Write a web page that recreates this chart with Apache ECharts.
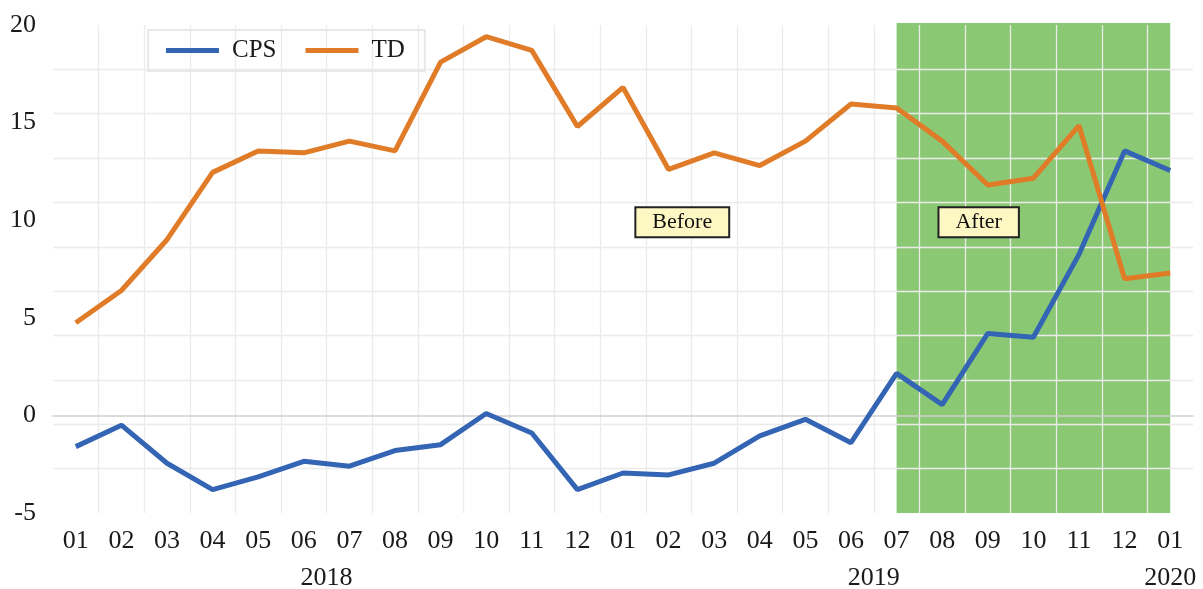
<!DOCTYPE html>
<html><head><meta charset="utf-8">
<script src="https://cdn.jsdelivr.net/npm/echarts@6/dist/echarts.min.js"></script>
<style>html,body{margin:0;padding:0;background:#fff}#c{width:1203px;height:589px}</style>
</head><body><div id="c"></div>
<script>
const years = ['2018','2018','2018','2018','2018','2018','2018','2018','2018','2018','2018','2018',
               '2019','2019','2019','2019','2019','2019','2019','2019','2019','2019','2019','2019','2020'];
const months = ['01','02','03','04','05','06','07','08','09','10','11','12',
                '01','02','03','04','05','06','07','08','09','10','11','12','01'];
const categories = years.map((y, i) => y + '-' + months[i]);
const cps = [-1.6, -0.5, -2.45, -3.8, -3.15, -2.35, -2.6, -1.8, -1.5, 0.1, -0.9, -3.8,
             -2.95, -3.05, -2.45, -1.05, -0.2, -1.4, 2.15, 0.55, 4.2, 4.0, 8.25, 13.55, 12.55];
const td = [4.75, 6.4, 9.0, 12.45, 13.55, 13.45, 14.05, 13.55, 18.1, 19.4, 18.7, 14.8,
            16.8, 12.6, 13.45, 12.8, 14.05, 15.95, 15.75, 14.05, 11.8, 12.15, 14.85, 7.0, 7.3];
const yearLabelPos = [5.5, 17.5, 24];
const yearLabels = ['2018', '2019', '2020'];
const afterStart = '2019-07', afterEnd = '2020-01';
const notes = [{ name: 'Before', value: [13.3, 9.9] }, { name: 'After', value: [19.8, 9.9] }];

const FONT = '"Liberation Serif", "Times New Roman", serif';
const TXT = '#1a1a1a';
const GRID = '#ebebeb';
const chart = echarts.init(document.getElementById('c'));
chart.setOption({
  animation: false,
  backgroundColor: '#fff',
  grid: { left: 53, right: 10, top: 25, bottom: 76, outerBoundsMode: 'none', containLabel: false },
  legend: {
    left: 148, top: 30,
    data: ['CPS', 'TD'],
    icon: 'rect', itemWidth: 53, itemHeight: 5, itemGap: 29,
    padding: [8, 20, 8, 18],
    borderColor: '#e8e8e8', borderWidth: 2,
    textStyle: { fontFamily: FONT, fontSize: 25, color: TXT, padding: [0, 0, 0, 8] }
  },
  xAxis: [
    {
      type: 'category', data: categories, boundaryGap: true, z: 2,
      axisLine: { show: false }, axisTick: { show: false },
      axisLabel: { fontFamily: FONT, fontSize: 26, color: TXT, margin: 15, interval: 0,
                   formatter: v => v.slice(5) },
      splitLine: { show: true, showMinLine: false, showMaxLine: false,
                   lineStyle: { color: GRID, width: 1.3 } }
    },
    {
      type: 'value', min: -0.5, max: 24.5, position: 'bottom', z: 2,
      axisLine: { show: false }, axisTick: { show: false }, splitLine: { show: false },
      axisLabel: { show: true, customValues: yearLabelPos, fontFamily: FONT, fontSize: 26, color: TXT, margin: 52,
                   formatter: v => yearLabels[yearLabelPos.indexOf(v)] || '' }
    },
    {
      type: 'category', data: categories, z: 2,
      axisLine: { show: true, onZero: true, onZeroAxisIndex: 0, lineStyle: { color: '#d0d0d0', width: 1.5 } },
      axisTick: { show: false }, axisLabel: { show: false }, splitLine: { show: false }
    }
  ],
  yAxis: [
    {
      type: 'value', min: -5, max: 20, interval: 5, z: 2,
      axisLine: { show: false }, axisTick: { show: false }, splitLine: { show: false },
      axisLabel: { fontFamily: FONT, fontSize: 26, color: TXT, margin: 17 }
    },
    {
      type: 'value', min: 0, max: 11, interval: 1, position: 'right', z: 2,
      axisLine: { show: false }, axisTick: { show: false }, axisLabel: { show: false },
      splitLine: { show: true, showMinLine: false, showMaxLine: false,
                   lineStyle: { color: GRID, width: 1.3 } }
    }
  ],
  series: [
    {
      name: 'band', type: 'line', data: [], z: 0, silent: true,
      markArea: {
        silent: true, z: 0,
        itemStyle: { color: '#8bc873', opacity: 1 },
        data: [[{ xAxis: afterStart, y: 23 }, { xAxis: afterEnd, y: 513 }]]
      },
      xAxisIndex: 0, yAxisIndex: 0
    },
    {
      name: 'CPS', type: 'line', data: cps, z: 5, xAxisIndex: 0, yAxisIndex: 0,
      symbol: 'none', lineStyle: { color: '#3464b4', width: 5 }, itemStyle: { color: '#3464b4' }
    },
    {
      name: 'TD', type: 'line', data: td, z: 5, xAxisIndex: 0, yAxisIndex: 0,
      symbol: 'none', lineStyle: { color: '#e07b27', width: 5 }, itemStyle: { color: '#e07b27' }
    },
    {
      name: 'notes', type: 'scatter', xAxisIndex: 1, yAxisIndex: 0, z: 6,
      symbolSize: 0, data: notes, itemStyle: { opacity: 1 },
      label: {
        show: true, position: 'inside', formatter: p => p.name,
        fontFamily: FONT, fontSize: 22, color: '#111',
        backgroundColor: '#fdf7c4', borderColor: '#222', borderWidth: 2,
        padding: [3, 16, 3, 16]
      }
    }
  ]
});
</script></body></html>
